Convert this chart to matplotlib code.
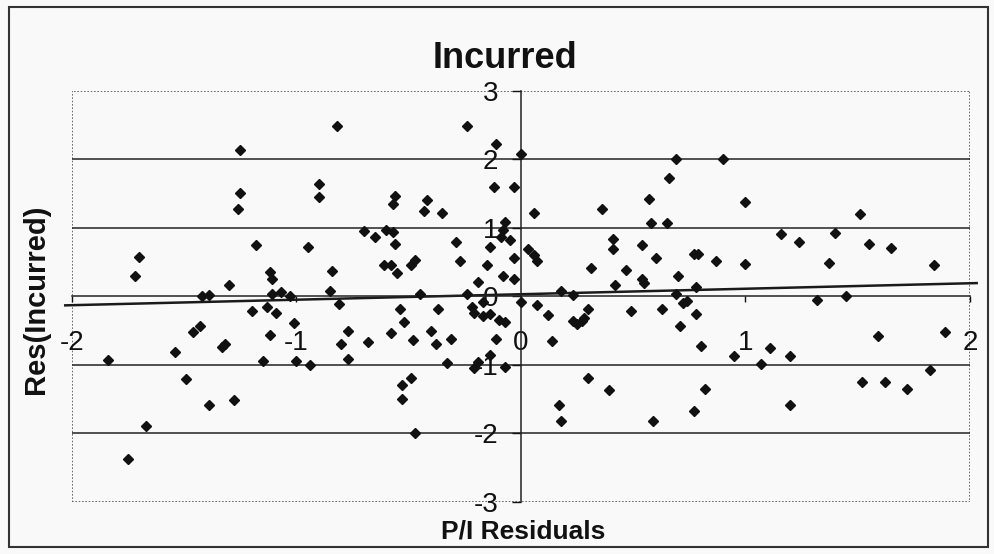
import numpy as np
import matplotlib.pyplot as plt
from matplotlib.patches import Rectangle

plt.rcParams['font.family'] = ['Liberation Sans', 'DejaVu Sans']

# P/I residuals (x) and incurred residuals (y)
pi_res = [-1.25, -1.25, -1.26, -1.18, -1.70, -1.72, -1.30, -1.12, -1.11, -1.42, -1.39, -1.11, -1.07, -1.03,
          -0.82, -0.24, -0.11, 0.00, -0.90, -0.90, -0.56, -0.57, -0.42, -0.43, -0.35, -0.12, -0.03,
          -0.70, -0.60, -0.57, -0.65, -0.56, -0.95, -0.07, -0.08, -0.09, -0.05, -0.29, -0.14, 0.03,
          -0.27, -0.15, -0.03, -0.61, -0.58, -0.55, -0.49, -0.47, -0.84, -0.08, -0.03, -0.19, -0.85,
          -0.45, -0.24,
          0.06, 0.36, 0.69, 0.90, 0.66, 0.57, 1.00, 0.58, 0.65, 0.41, 0.41, 0.54, 0.06, 0.07, 0.60,
          0.77, 0.79, 0.87, 1.00, 0.31, 0.47, 0.54, 0.55, 0.70, 0.42, 0.18, 0.78, 0.69, 0.23,
          1.51, 1.16, 1.24, 1.40, 1.55, 1.65, 1.37, 1.84,
          1.32, 1.45, 1.59, 1.89, 1.11, 1.20, 1.07, 1.82, 1.52, 1.62, 1.72, 1.20,
          0.00, 0.07, 0.12, 0.14, 0.23, 0.25, 0.27, 0.28, 0.30, 0.49, 0.63, 0.72, 0.74, 0.78, 0.71,
          0.80, 0.95, 0.30, 0.39, 0.82, 0.17, 0.18, 0.59, 0.77,
          -0.81, -0.54, -0.37, -0.22, -0.21, -0.17, -0.14, -0.17, -0.10, -0.07, -1.01, -0.52, -0.77,
          -0.58, -0.40, -0.80, -0.68, -0.48, -0.38, -0.31, -0.11, -1.00, -0.94, -0.77, -0.33, -0.14,
          -0.19, -0.21, -0.07, -0.53, -0.49, -0.53, -0.47,
          -1.20, -1.13, -1.09, -1.43, -1.46, -1.12, -1.33, -1.32, -1.54, -1.84, -1.15, -1.49, -1.39,
          -1.28, -1.67, -1.75]
inc_res = [2.13, 1.51, 1.28, 0.75, 0.58, 0.30, 0.16, 0.35, 0.25, 0.00, 0.02, 0.03, 0.06, 0.00,
           2.49, 2.49, 2.22, 2.08, 1.64, 1.45, 1.46, 1.35, 1.41, 1.25, 1.21, 1.60, 1.60,
           0.95, 0.97, 0.94, 0.86, 0.76, 0.72, 1.09, 0.97, 0.86, 0.82, 0.79, 0.72, 0.69,
           0.51, 0.46, 0.56, 0.46, 0.46, 0.34, 0.46, 0.53, 0.37, 0.30, 0.25, 0.21, 0.08,
           0.04, 0.04,
           1.21, 1.28, 2.01, 2.01, 1.72, 1.42, 1.38, 1.07, 1.07, 0.84, 0.69, 0.75, 0.60, 0.51, 0.56,
           0.61, 0.61, 0.51, 0.47, 0.42, 0.39, 0.25, 0.20, 0.29, 0.16, 0.08, 0.13, 0.04, 0.02,
           1.20, 0.91, 0.79, 0.92, 0.77, 0.70, 0.48, 0.46,
           -0.05, 0.00, -0.58, -0.52, -0.75, -0.87, -0.99, -1.08, -1.25, -1.25, -1.35, -1.59,
           -0.09, -0.12, -0.27, -0.65, -0.36, -0.40, -0.36, -0.31, -0.18, -0.21, -0.19, -0.10, -0.07,
           -0.26, -0.44, -0.72, -0.87, -1.19, -1.37, -1.35, -1.58, -1.82, -1.82, -1.67,
           -0.11, -0.19, -0.19, -0.15, -0.25, -0.29, -0.26, -0.08, -0.34, -0.38, -0.39, -0.38, -0.50,
           -0.53, -0.51, -0.70, -0.67, -0.64, -0.70, -0.63, -0.63, -0.94, -1.00, -0.92, -0.97, -0.85,
           -0.96, -1.04, -1.03, -1.29, -1.20, -1.50, -1.99,
           -0.21, -0.16, -0.24, -0.43, -0.52, -0.57, -0.74, -0.70, -0.81, -0.93, -0.95, -1.21, -1.59,
           -1.51, -1.90, -2.37]

# Excel linear trendline as drawn in the scan (slope, intercept)
trend_slope = 0.08
trend_icpt = 0.03

x_ticks = [-2, -1, 0, 1, 2]
y_ticks = [-3, -2, -1, 0, 1, 2, 3]

fig = plt.figure(figsize=(9.94, 5.54), dpi=100, facecolor='#f9f9f9')
ax = fig.add_axes([0.0724, 0.0942, 0.9034, 0.742])
ax.set_facecolor('#f9f9f9')

# horizontal gridlines
for g in [-2, -1, 1, 2]:
    ax.axhline(g, color='#222222', lw=1.1, zorder=1)

ax.plot(pi_res, inc_res, ls='none', marker='D', ms=5.2, color='#111111', zorder=3)

xt = np.array([-2.03, 2.03])
ax.plot(xt, trend_slope * xt + trend_icpt, color='#1a1a1a', lw=1.8, zorder=2, clip_on=False)

ax.set_xlim(-2, 2)
ax.set_ylim(-3, 3)
ax.set_xticks(x_ticks)
ax.set_yticks(y_ticks)
ax.set_xticklabels([str(v) for v in x_ticks])
ax.set_yticklabels([str(v) for v in y_ticks])

ax.spines['left'].set_position(('data', 0))
ax.spines['bottom'].set_position(('data', 0))
ax.spines['left'].set_color('#222222')
ax.spines['bottom'].set_color('#222222')
ax.spines['left'].set_linewidth(1.1)
ax.spines['bottom'].set_linewidth(1.1)
ax.spines['top'].set_visible(False)
ax.spines['right'].set_visible(False)

ax.tick_params(axis='x', direction='out', length=4, width=1, pad=20, labelsize=20, colors='#111111')
ax.tick_params(axis='y', direction='out', length=6.5, width=1, pad=10, labelsize=20, colors='#111111')

# dotted plot-area border
ax.add_patch(Rectangle((0, 0), 1, 1, transform=ax.transAxes, fill=False,
                       ls=(0, (1, 1)), ec='#555555', lw=1.2, zorder=0))

fig.text(0.508, 0.895, 'Incurred', ha='center', va='center', fontsize=26, fontweight='bold', color='#111111')
fig.text(0.526, 0.041, 'P/I Residuals', ha='center', va='center', fontsize=19, fontweight='bold', color='#111111')
fig.text(0.036, 0.46, 'Res(Incurred)', ha='center', va='center', rotation=90, fontsize=21,
         fontweight='bold', color='#111111')

# chart border
fig.patches.append(Rectangle((0.009, 0.012), 0.985, 0.975, transform=fig.transFigure, fill=False,
                             ec='#333333', lw=1.5))

fig.savefig('out.png', dpi=100, facecolor=fig.get_facecolor())
